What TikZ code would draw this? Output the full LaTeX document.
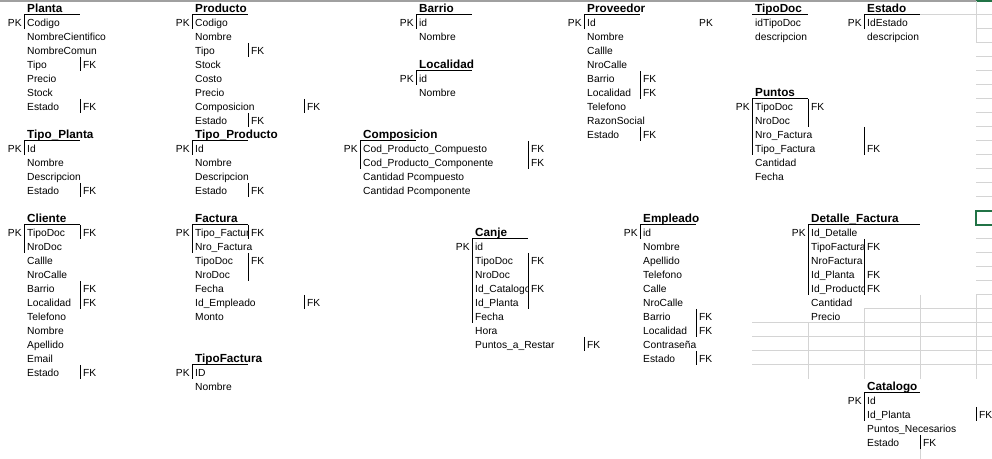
\documentclass[tikz,border=0pt]{standalone}
\usepackage{fontspec}
\setmainfont{Liberation Sans}
\usepackage{xcolor}
\usepackage{tikz}

\definecolor{gridgray}{RGB}{212,212,212}
\definecolor{headgray}{RGB}{160,160,160}
\definecolor{selgreen}{RGB}{33,115,70}

\begin{document}
\begin{tikzpicture}[
    x=42pt, y=-10.5pt,
    field/.style={anchor=base west, inner xsep=2.2pt, inner ysep=0pt, font=\fontsize{7.7}{9}\selectfont},
    title/.style={field, font=\fontsize{8.8}{10}\selectfont\bfseries},
    pk/.style={anchor=base east, inner xsep=1.6pt, inner ysep=0pt, font=\fontsize{7.7}{9}\selectfont},
    fk/.style={field},
    rule/.style={draw=black, line width=0.75pt},
    gridline/.style={draw=gridgray, line width=0.75pt},
]

\useasboundingbox (-0.4286,-0.0714) rectangle (17.2857,32.7143);

% ── sheet header and grid ──
\draw[headgray, line width=1.2pt] (-0.4286,0) -- (17,0);
\foreach \c in {0,...,16} \draw[headgray, line width=0.6pt] (\c,-0.0714) -- (\c,0);
\draw[selgreen, line width=1.5pt] (17,0) -- (17.2857,0);

\draw[gridline] (16,1) -- (17.2857,1);
\draw[gridline] (17,0) -- (17,3);
\foreach \r in {2,...,14,17,18,19,20,21} \draw[gridline] (17,\r) -- (17.2857,\r);
\draw[gridline] (15,22) -- (17.2857,22);
\foreach \r in {23,...,26} \draw[gridline] (13,\r) -- (17.2857,\r);
\draw[gridline] (14,23) -- (14,27);
\draw[gridline] (15,22) -- (15,27);
\draw[gridline] (16,21) -- (16,27);
\draw[gridline] (17,21) -- (17,27);
\draw[gridline] (16,32) -- (16,32.7143);
\draw[selgreen, line width=1.5pt] (17,15) rectangle (17.32,16);

% ══════════════════════════════════════
% Planta / Tipo_Planta / Cliente
% ══════════════════════════════════════
\node[title] (planta) at (0,0.83) {Planta};
\node[pk] (planta-pk) at (0,1.83) {PK};
\node[field] (planta-1) at (0,1.83) {Codigo};
\node[field] (planta-2) at (0,2.83) {NombreCientifico};
\node[field] (planta-3) at (0,3.83) {NombreComun};
\node[field] (planta-4) at (0,4.83) {Tipo};
\node[field] (planta-5) at (0,5.83) {Precio};
\node[field] (planta-6) at (0,6.83) {Stock};
\node[field] (planta-7) at (0,7.83) {Estado};
\node[fk] (planta-fk4) at (1,4.83) {FK};
\node[fk] (planta-fk7) at (1,7.83) {FK};
\draw[rule] (0,1) -- (1,1);
\draw[rule] (0,1) -- (0,2);
\draw[rule] (1,4) -- (1,5);
\draw[rule] (1,7) -- (1,8);

\node[title] (tplanta) at (0,9.83) {Tipo\_Planta};
\node[pk] (tplanta-pk) at (0,10.83) {PK};
\node[field] (tplanta-1) at (0,10.83) {Id};
\node[field] (tplanta-2) at (0,11.83) {Nombre};
\node[field] (tplanta-3) at (0,12.83) {Descripcion};
\node[field] (tplanta-4) at (0,13.83) {Estado};
\node[fk] (tplanta-fk4) at (1,13.83) {FK};
\draw[rule] (0,10) -- (1,10);
\draw[rule] (0,10) -- (0,11);
\draw[rule] (1,13) -- (1,14);

\node[title] (cliente) at (0,15.83) {Cliente};
\node[pk] (cliente-pk) at (0,16.83) {PK};
\node[field] (cliente-1) at (0,16.83) {TipoDoc};
\node[field] (cliente-2) at (0,17.83) {NroDoc};
\node[field] (cliente-3) at (0,18.83) {Callle};
\node[field] (cliente-4) at (0,19.83) {NroCalle};
\node[field] (cliente-5) at (0,20.83) {Barrio};
\node[field] (cliente-6) at (0,21.83) {Localidad};
\node[field] (cliente-7) at (0,22.83) {Telefono};
\node[field] (cliente-8) at (0,23.83) {Nombre};
\node[field] (cliente-9) at (0,24.83) {Apellido};
\node[field] (cliente-10) at (0,25.83) {Email};
\node[field] (cliente-11) at (0,26.83) {Estado};
\node[fk] (cliente-fk1) at (1,16.83) {FK};
\node[fk] (cliente-fk5) at (1,20.83) {FK};
\node[fk] (cliente-fk6) at (1,21.83) {FK};
\node[fk] (cliente-fk11) at (1,26.83) {FK};
\draw[rule] (0,16) -- (1,16);
\draw[rule] (0,16) -- (0,18);
\draw[rule] (1,16) -- (1,17);
\draw[rule] (1,20) -- (1,22);
\draw[rule] (1,26) -- (1,27);

% ══════════════════════════════════════
% Producto / Tipo_Producto / Factura / TipoFactura
% ══════════════════════════════════════
\node[title] (producto) at (3,0.83) {Producto};
\node[pk] (producto-pk) at (3,1.83) {PK};
\node[field] (producto-1) at (3,1.83) {Codigo};
\node[field] (producto-2) at (3,2.83) {Nombre};
\node[field] (producto-3) at (3,3.83) {Tipo};
\node[field] (producto-4) at (3,4.83) {Stock};
\node[field] (producto-5) at (3,5.83) {Costo};
\node[field] (producto-6) at (3,6.83) {Precio};
\node[field] (producto-7) at (3,7.83) {Composicion};
\node[field] (producto-8) at (3,8.83) {Estado};
\node[fk] (producto-fk3) at (4,3.83) {FK};
\node[fk] (producto-fk7) at (5,7.83) {FK};
\node[fk] (producto-fk8) at (4,8.83) {FK};
\draw[rule] (3,1) -- (4,1);
\draw[rule] (3,1) -- (3,2);
\draw[rule] (4,3) -- (4,4);
\draw[rule] (5,7) -- (5,8);
\draw[rule] (4,8) -- (4,9);

\node[title] (tproducto) at (3,9.83) {Tipo\_Producto};
\node[pk] (tproducto-pk) at (3,10.83) {PK};
\node[field] (tproducto-1) at (3,10.83) {Id};
\node[field] (tproducto-2) at (3,11.83) {Nombre};
\node[field] (tproducto-3) at (3,12.83) {Descripcion};
\node[field] (tproducto-4) at (3,13.83) {Estado};
\node[fk] (tproducto-fk4) at (4,13.83) {FK};
\draw[rule] (3,10) -- (4,10);
\draw[rule] (3,10) -- (3,11);
\draw[rule] (4,13) -- (4,14);

\node[title] (factura) at (3,15.83) {Factura};
\node[pk] (factura-pk) at (3,16.83) {PK};
\begin{scope}
  \clip (3,16) rectangle (4,17);
  \node[field] (factura-1) at (3,16.83) {Tipo\_Factura};
\end{scope}
\node[field] (factura-2) at (3,17.83) {Nro\_Factura};
\node[field] (factura-3) at (3,18.83) {TipoDoc};
\node[field] (factura-4) at (3,19.83) {NroDoc};
\node[field] (factura-5) at (3,20.83) {Fecha};
\node[field] (factura-6) at (3,21.83) {Id\_Empleado};
\node[field] (factura-7) at (3,22.83) {Monto};
\node[fk] (factura-fk1) at (4,16.83) {FK};
\node[fk] (factura-fk3) at (4,18.83) {FK};
\node[fk] (factura-fk6) at (5,21.83) {FK};
\draw[rule] (3,16) -- (4,16);
\draw[rule] (3,16) -- (3,18);
\draw[rule] (4,16) -- (4,17);
\draw[rule] (4,18) -- (4,20);
\draw[rule] (5,21) -- (5,22);

\node[title] (tfactura) at (3,25.83) {TipoFactura};
\node[pk] (tfactura-pk) at (3,26.83) {PK};
\node[field] (tfactura-1) at (3,26.83) {ID};
\node[field] (tfactura-2) at (3,27.83) {Nombre};
\draw[rule] (3,26) -- (4,26);
\draw[rule] (3,26) -- (3,27);

% ══════════════════════════════════════
% Barrio / Localidad / Composicion / Canje
% ══════════════════════════════════════
\node[title] (barrio) at (7,0.83) {Barrio};
\node[pk] (barrio-pk) at (7,1.83) {PK};
\node[field] (barrio-1) at (7,1.83) {id};
\node[field] (barrio-2) at (7,2.83) {Nombre};
\draw[rule] (7,1) -- (8,1);
\draw[rule] (7,1) -- (7,2);

\node[title] (localidad) at (7,4.83) {Localidad};
\node[pk] (localidad-pk) at (7,5.83) {PK};
\node[field] (localidad-1) at (7,5.83) {id};
\node[field] (localidad-2) at (7,6.83) {Nombre};
\draw[rule] (7,5) -- (8,5);
\draw[rule] (7,5) -- (7,6);

\node[title] (composicion) at (6,9.83) {Composicion};
\node[pk] (composicion-pk) at (6,10.83) {PK};
\node[field] (composicion-1) at (6,10.83) {Cod\_Producto\_Compuesto};
\node[field] (composicion-2) at (6,11.83) {Cod\_Producto\_Componente};
\node[field] (composicion-3) at (6,12.83) {Cantidad Pcompuesto};
\node[field] (composicion-4) at (6,13.83) {Cantidad Pcomponente};
\node[fk] (composicion-fk1) at (9,10.83) {FK};
\node[fk] (composicion-fk2) at (9,11.83) {FK};
\draw[rule] (6,10) -- (7,10);
\draw[rule] (6,10) -- (6,12);
\draw[rule] (9,10) -- (9,12);

\node[title] (canje) at (8,16.83) {Canje};
\node[pk] (canje-pk) at (8,17.83) {PK};
\node[field] (canje-1) at (8,17.83) {id};
\node[field] (canje-2) at (8,18.83) {TipoDoc};
\node[field] (canje-3) at (8,19.83) {NroDoc};
\begin{scope}
  \clip (8,20) rectangle (9,21);
  \node[field] (canje-4) at (8,20.83) {Id\_Catalogo};
\end{scope}
\node[field] (canje-5) at (8,21.83) {Id\_Planta};
\node[field] (canje-6) at (8,22.83) {Fecha};
\node[field] (canje-7) at (8,23.83) {Hora};
\node[field] (canje-8) at (8,24.83) {Puntos\_a\_Restar};
\node[fk] (canje-fk2) at (9,18.83) {FK};
\node[fk] (canje-fk4) at (9,20.83) {FK};
\node[fk] (canje-fk8) at (10,24.83) {FK};
\draw[rule] (8,17) -- (9,17);
\draw[rule] (8,17) -- (8,23);
\draw[rule] (9,18) -- (9,22);
\draw[rule] (10,24) -- (10,25);

% ══════════════════════════════════════
% Proveedor / Empleado
% ══════════════════════════════════════
\node[title] (proveedor) at (10,0.83) {Proveedor};
\node[pk] (proveedor-pk) at (10,1.83) {PK};
\node[field] (proveedor-1) at (10,1.83) {Id};
\node[field] (proveedor-2) at (10,2.83) {Nombre};
\node[field] (proveedor-3) at (10,3.83) {Callle};
\node[field] (proveedor-4) at (10,4.83) {NroCalle};
\node[field] (proveedor-5) at (10,5.83) {Barrio};
\node[field] (proveedor-6) at (10,6.83) {Localidad};
\node[field] (proveedor-7) at (10,7.83) {Telefono};
\node[field] (proveedor-8) at (10,8.83) {RazonSocial};
\node[field] (proveedor-9) at (10,9.83) {Estado};
\node[fk] (proveedor-fk5) at (11,5.83) {FK};
\node[fk] (proveedor-fk6) at (11,6.83) {FK};
\node[fk] (proveedor-fk9) at (11,9.83) {FK};
\draw[rule] (10,1) -- (11,1);
\draw[rule] (10,1) -- (10,2);
\draw[rule] (11,5) -- (11,7);
\draw[rule] (11,9) -- (11,10);

\node[title] (empleado) at (11,15.83) {Empleado};
\node[pk] (empleado-pk) at (11,16.83) {PK};
\node[field] (empleado-1) at (11,16.83) {id};
\node[field] (empleado-2) at (11,17.83) {Nombre};
\node[field] (empleado-3) at (11,18.83) {Apellido};
\node[field] (empleado-4) at (11,19.83) {Telefono};
\node[field] (empleado-5) at (11,20.83) {Calle};
\node[field] (empleado-6) at (11,21.83) {NroCalle};
\node[field] (empleado-7) at (11,22.83) {Barrio};
\node[field] (empleado-8) at (11,23.83) {Localidad};
\node[field] (empleado-9) at (11,24.83) {Contraseña};
\node[field] (empleado-10) at (11,25.83) {Estado};
\node[fk] (empleado-fk7) at (12,22.83) {FK};
\node[fk] (empleado-fk8) at (12,23.83) {FK};
\node[fk] (empleado-fk10) at (12,25.83) {FK};
\draw[rule] (11,16) -- (12,16);
\draw[rule] (11,16) -- (11,17);
\draw[rule] (12,22) -- (12,24);
\draw[rule] (12,25) -- (12,26);

% ══════════════════════════════════════
% TipoDoc / Estado / Puntos
% ══════════════════════════════════════
\node[title] (tipodoc) at (13,0.83) {TipoDoc};
\node[field] (tipodoc-pk) at (12,1.83) {PK};
\node[field] (tipodoc-1) at (13,1.83) {idTipoDoc};
\node[field] (tipodoc-2) at (13,2.83) {descripcion};
\draw[rule] (13,1) -- (14,1);

\node[title] (estado) at (15,0.83) {Estado};
\node[pk] (estado-pk) at (15,1.83) {PK};
\node[field] (estado-1) at (15,1.83) {IdEstado};
\node[field] (estado-2) at (15,2.83) {descripcion};
\draw[rule] (15,1) -- (16,1);
\draw[rule] (15,1) -- (15,2);

\node[title] (puntos) at (13,6.83) {Puntos};
\node[pk] (puntos-pk) at (13,7.83) {PK};
\node[field] (puntos-1) at (13,7.83) {TipoDoc};
\node[field] (puntos-2) at (13,8.83) {NroDoc};
\node[field] (puntos-3) at (13,9.83) {Nro\_Factura};
\node[field] (puntos-4) at (13,10.83) {Tipo\_Factura};
\node[field] (puntos-5) at (13,11.83) {Cantidad};
\node[field] (puntos-6) at (13,12.83) {Fecha};
\node[fk] (puntos-fk1) at (14,7.83) {FK};
\node[fk] (puntos-fk4) at (15,10.83) {FK};
\draw[rule] (13,7) -- (14,7);
\draw[rule] (13,7) -- (13,11);
\draw[rule] (14,7) -- (14,9);
\draw[rule] (15,9) -- (15,11);

% ══════════════════════════════════════
% Detalle_Factura / Catalogo
% ══════════════════════════════════════
\node[title] (detalle) at (14,15.83) {Detalle\_Factura};
\node[pk] (detalle-pk) at (14,16.83) {PK};
\node[field] (detalle-1) at (14,16.83) {Id\_Detalle};
\begin{scope}
  \clip (14,17) rectangle (15,18);
  \node[field] (detalle-2) at (14,17.83) {TipoFactura};
\end{scope}
\node[field] (detalle-3) at (14,18.83) {NroFactura};
\node[field] (detalle-4) at (14,19.83) {Id\_Planta};
\begin{scope}
  \clip (14,20) rectangle (15,21);
  \node[field] (detalle-5) at (14,20.83) {Id\_Producto};
\end{scope}
\node[field] (detalle-6) at (14,21.83) {Cantidad};
\node[field] (detalle-7) at (14,22.83) {Precio};
\node[fk] (detalle-fk2) at (15,17.83) {FK};
\node[fk] (detalle-fk4) at (15,19.83) {FK};
\node[fk] (detalle-fk5) at (15,20.83) {FK};
\draw[rule] (14,16) -- (16,16);
\draw[rule] (14,16) -- (14,21);
\draw[rule] (15,17) -- (15,21);

\node[title] (catalogo) at (15,27.83) {Catalogo};
\node[pk] (catalogo-pk) at (15,28.83) {PK};
\node[field] (catalogo-1) at (15,28.83) {Id};
\node[field] (catalogo-2) at (15,29.83) {Id\_Planta};
\node[field] (catalogo-3) at (15,30.83) {Puntos\_Necesarios};
\node[field] (catalogo-4) at (15,31.83) {Estado};
\node[fk] (catalogo-fk2) at (17,29.83) {FK};
\node[fk] (catalogo-fk4) at (16,31.83) {FK};
\draw[rule] (15,28) -- (16,28);
\draw[rule] (15,28) -- (15,30);
\draw[rule] (17,29) -- (17,30);
\draw[rule] (16,31) -- (16,32);

\end{tikzpicture}
\end{document}
